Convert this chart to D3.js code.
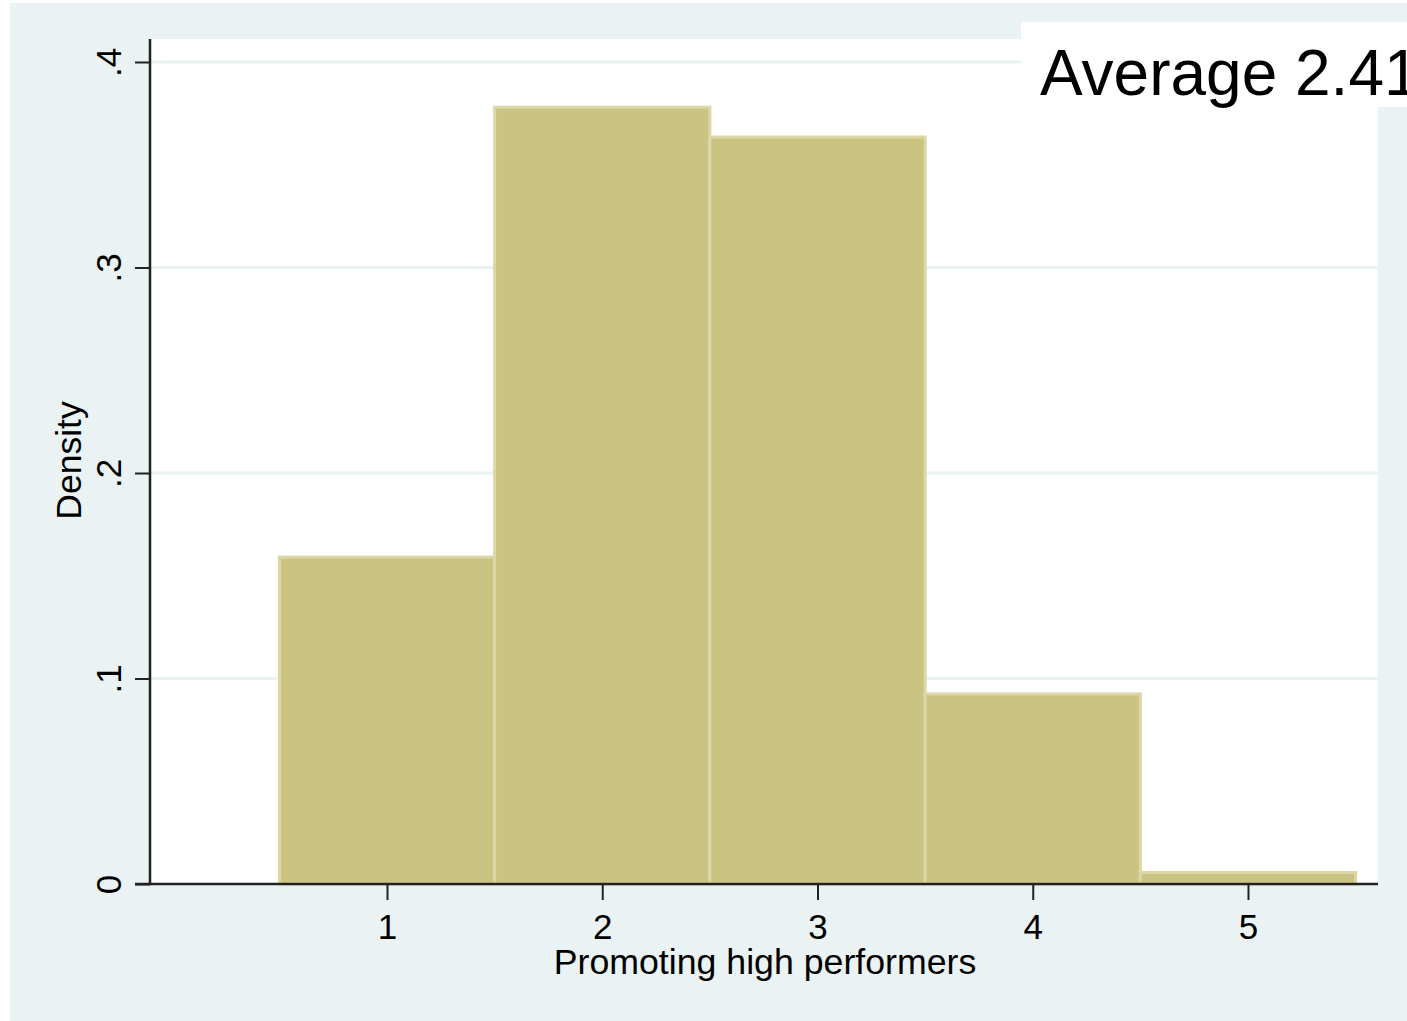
<!DOCTYPE html>
<html>
<head>
<meta charset="utf-8">
<script src="https://cdn.jsdelivr.net/npm/d3@7"></script>
<style>
  html, body { margin: 0; padding: 0; background: #ffffff; }
  svg { display: block; }
  text { font-family: "Liberation Sans", Arial, sans-serif; fill: #000; }
</style>
</head>
<body>
<svg id="chart" width="1407" height="1021"></svg>
<script>
// ---- data ----
const binCenters = [1, 2, 3, 4, 5];
const densities = [0.1591, 0.3780, 0.3635, 0.0925, 0.0056];
const binWidth = 1;
const xTicks = [1, 2, 3, 4, 5];
const yTicks = [0, 0.1, 0.2, 0.3, 0.4];
const yTickLabels = ["0", ".1", ".2", ".3", ".4"];
const xTitle = "Promoting high performers";
const yTitle = "Density";
const noteText = "Average 2.41";

// ---- layout ----
const W = 1407, H = 1021;
const plot = { left: 150, right: 1378, top: 39, bottom: 884 };
const svg = d3.select("#chart");

const x = d3.scaleLinear().domain([-0.101, 5.604]).range([plot.left, plot.right]);
const y = d3.scaleLinear().domain([0, 0.4]).range([plot.bottom, 62]);

// outer background
svg.append("rect").attr("x", 10).attr("y", 3).attr("width", W - 10).attr("height", H - 3)
  .attr("fill", "#eaf2f3");

// plot region
svg.append("rect").attr("x", plot.left).attr("y", plot.top)
  .attr("width", plot.right - plot.left).attr("height", plot.bottom - plot.top)
  .attr("fill", "#ffffff");

// gridlines
svg.append("g").selectAll("line").data(yTicks.filter(d => d > 0)).join("line")
  .attr("x1", plot.left).attr("x2", plot.right)
  .attr("y1", d => y(d)).attr("y2", d => y(d))
  .attr("stroke", "#eaf2f3").attr("stroke-width", 3);

// bars
svg.append("g").selectAll("rect").data(binCenters).join("rect")
  .attr("x", (d) => x(d - binWidth / 2))
  .attr("width", (d) => x(d + binWidth / 2) - x(d - binWidth / 2))
  .attr("y", (d, i) => y(densities[i]))
  .attr("height", (d, i) => y(0) - y(densities[i]))
  .attr("fill", "#cbc382")
  .attr("stroke", "#dcd7a6")
  .attr("stroke-width", 3);

// y axis
const yAxis = d3.axisLeft(y).tickValues(yTicks).tickSize(15).tickPadding(14)
  .tickFormat((d, i) => yTickLabels[i]);
const gy = svg.append("g").attr("transform", `translate(${plot.left},0)`).call(yAxis);
gy.select(".domain").remove();
gy.selectAll(".tick line").attr("stroke", "#222").attr("stroke-width", 2);
gy.selectAll(".tick text")
  .attr("font-size", 35)
  .attr("x", null).attr("dy", null)
  .attr("text-anchor", "middle")
  .attr("transform", "translate(-29,0) rotate(-90)")
  .style("font-family", "'Liberation Sans', Arial, sans-serif");
svg.append("line").attr("x1", plot.left).attr("x2", plot.left)
  .attr("y1", plot.top).attr("y2", plot.bottom)
  .attr("stroke", "#222").attr("stroke-width", 2.5);

// x axis
const xAxis = d3.axisBottom(x).tickValues(xTicks).tickSize(16).tickPadding(8)
  .tickFormat(d3.format("d"));
const gx = svg.append("g").attr("transform", `translate(0,${plot.bottom})`).call(xAxis);
gx.select(".domain").remove();
gx.selectAll(".tick line").attr("stroke", "#222").attr("stroke-width", 2);
gx.selectAll(".tick text").attr("font-size", 35).attr("dy", null).attr("y", 55)
  .style("font-family", "'Liberation Sans', Arial, sans-serif");
svg.append("line").attr("x1", 135).attr("x2", plot.right)
  .attr("y1", plot.bottom).attr("y2", plot.bottom)
  .attr("stroke", "#222").attr("stroke-width", 2.5);

// axis titles
svg.append("text").attr("x", (plot.left + plot.right) / 2 + 1).attr("y", 974)
  .attr("text-anchor", "middle").attr("font-size", 35.7).text(xTitle);
svg.append("text").attr("transform", `translate(81,${(plot.top + plot.bottom) / 2 - 1}) rotate(-90)`)
  .attr("text-anchor", "middle").attr("font-size", 35.5).text(yTitle);

// note box
svg.append("rect").attr("x", 1021).attr("y", 22).attr("width", W - 1021).attr("height", 85)
  .attr("fill", "#ffffff");
svg.append("text").attr("x", 1040).attr("y", 95).attr("font-size", 64).text(noteText);
</script>
</body>
</html>
